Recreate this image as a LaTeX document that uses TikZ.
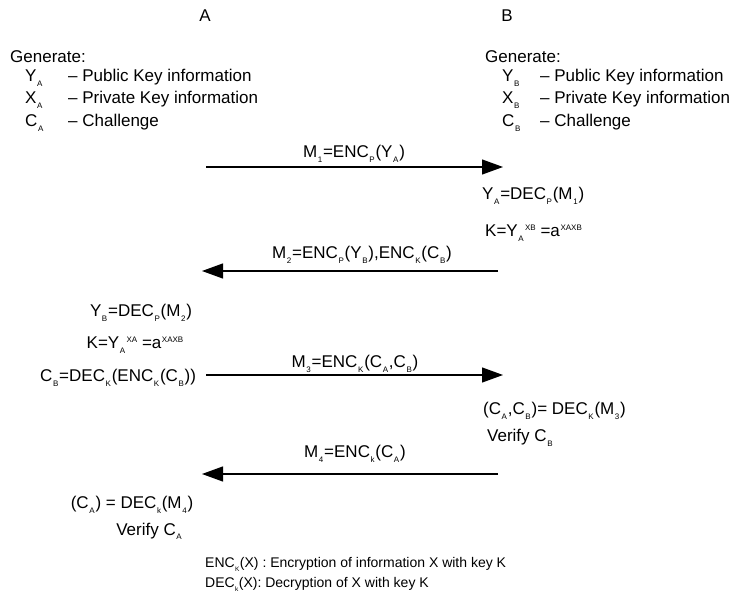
\documentclass[tikz,border=0pt]{standalone}
\usepackage{fontspec}
\setmainfont{Liberation Sans}
\usetikzlibrary{arrows.meta}
% small lowered index and small raised exponent
\newcommand{\lo}[1]{\hspace{0.6pt}\raisebox{-5pt}{\fontsize{8}{8}\selectfont #1}\hspace{0.8pt}}
\newcommand{\hi}[1]{\hspace{0.6pt}\raisebox{6.5pt}{\fontsize{8}{8}\selectfont #1}}
\newcommand{\nlo}[1]{\hspace{0.4pt}\raisebox{-4pt}{\fontsize{6.5}{6.5}\selectfont #1}\hspace{0.5pt}}
\begin{document}
\begin{tikzpicture}[x=1pt,y=-1pt,
  txt/.style={inner sep=0pt, font=\fontsize{17}{19}\selectfont},
  note/.style={inner sep=0pt, font=\fontsize{14}{16}\selectfont},
  msg/.style={line width=1.1pt, -{Triangle[length=21pt,width=15pt]}}]
\useasboundingbox (0,0) rectangle (734,593);

% parties
\node[txt, anchor=base] (hA) at (205,22) {A};
\node[txt, anchor=base] (hB) at (507,22) {B};

% generation on side A
\node[txt, anchor=base west] (genA) at (10,63) {Generate:};
\node[txt, anchor=base west] (yA) at (25,82) {Y\lo{A}};
\node[txt, anchor=base west] (yAd) at (68,82) {– Public Key information};
\node[txt, anchor=base west] (xA) at (25,104) {X\lo{A}};
\node[txt, anchor=base west] (xAd) at (68,104) {– Private Key information};
\node[txt, anchor=base west] (cA) at (25,127) {C\lo{A}};
\node[txt, anchor=base west] (cAd) at (68,127) {– Challenge};

% generation on side B
\node[txt, anchor=base west] (genB) at (485,63) {Generate:};
\node[txt, anchor=base west] (yB) at (502,82) {Y\lo{B}};
\node[txt, anchor=base west] (yBd) at (540,82) {– Public Key information};
\node[txt, anchor=base west] (xB) at (502,104) {X\lo{B}};
\node[txt, anchor=base west] (xBd) at (540,104) {– Private Key information};
\node[txt, anchor=base west] (cB) at (502,127) {C\lo{B}};
\node[txt, anchor=base west] (cBd) at (540,127) {– Challenge};

% message 1
\coordinate (m1a) at (206,167);
\coordinate (m1b) at (503,167);
\draw[msg] (m1a) -- (m1b);
\node[txt, anchor=base] (l1) at (354,158) {M\lo{1}=ENC\lo{P}(Y\lo{A})};

\node[txt, anchor=base west] (b1) at (482,200) {Y\lo{A}=DEC\lo{P}(M\lo{1})};
\node[txt, anchor=base west] (b2) at (485,237) {K=Y\lo{A}\hi{XB} =a\hi{XAXB}};

% message 2
\coordinate (m2a) at (498,271);
\coordinate (m2b) at (202,271);
\draw[msg] (m2a) -- (m2b);
\node[txt, anchor=base] (l2) at (362,259) {M\lo{2}=ENC\lo{P}(Y\lo{B}),ENC\lo{K}(C\lo{B})};

\node[txt, anchor=base] (a1) at (141,317) {Y\lo{B}=DEC\lo{P}(M\lo{2})};
\node[txt, anchor=base] (a2) at (135,349) {K=Y\lo{A}\hi{XA} =a\hi{XAXB}};
\node[txt, anchor=base west] (a3) at (40,382) {C\lo{B}=DEC\lo{K}(ENC\lo{K}(C\lo{B}))};

% message 3
\coordinate (m3a) at (206,375);
\coordinate (m3b) at (503,375);
\draw[msg] (m3a) -- (m3b);
\node[txt, anchor=base] (l3) at (355,368) {M\lo{3}=ENC\lo{K}(C\lo{A},C\lo{B})};

\node[txt, anchor=base west] (b3) at (483,415) {(C\lo{A},C\lo{B})= DEC\lo{K}(M\lo{3})};
\node[txt, anchor=base west] (b4) at (487,442) {Verify C\lo{B}};

% message 4
\coordinate (m4a) at (498,474);
\coordinate (m4b) at (202,474);
\draw[msg] (m4a) -- (m4b);
\node[txt, anchor=base] (l4) at (355,458) {M\lo{4}=ENC\lo{k}(C\lo{A})};

\node[txt, anchor=base] (a4) at (132,508) {(C\lo{A}) = DEC\lo{k}(M\lo{4})};
\node[txt, anchor=base] (a5) at (149,535) {Verify C\lo{A}};

% legend
\node[note, anchor=base west] (n1) at (205,567) {ENC\nlo{K}(X) : Encryption of information X with key K};
\node[note, anchor=base west] (n2) at (205,587) {DEC\nlo{k}(X): Decryption of X with key K};
\end{tikzpicture}
\end{document}
